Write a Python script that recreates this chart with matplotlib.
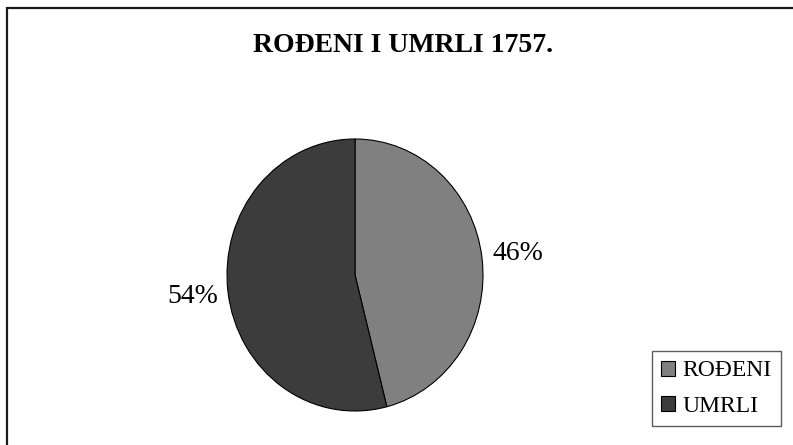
import matplotlib
matplotlib.use('Agg')
import matplotlib.pyplot as plt
from matplotlib.patches import Rectangle

labels = ['ROĐENI', 'UMRLI']
shares = [46, 54]
colors = ['#808080', '#3c3c3c']

plt.rcParams['font.family'] = ['Liberation Serif', 'DejaVu Serif']

W, H = 793, 445
fig = plt.figure(figsize=(W / 100, H / 100), dpi=100)

# outer frame (only top and left edge visible in the image)
fig.patches.append(Rectangle((7 / W, -0.1), 1.2, 1.1 - 8 / H,
                             transform=fig.transFigure, fill=False,
                             edgecolor='#1a1a1a', linewidth=1.6))

fig.text(403 / W, 1 - 46 / H, 'ROĐENI I UMRLI 1757.', ha='center',
         va='center', fontsize=20, fontweight='bold')

# pie is slightly taller than wide, so place axes in pixels
left, right, top, bottom = 227, 483, 139, 411
ax = fig.add_axes([left / W, 1 - bottom / H, (right - left) / W,
                   (bottom - top) / H])
wedges, texts, autotexts = ax.pie(
    shares, colors=colors, startangle=90, counterclock=False,
    autopct='%d%%', pctdistance=1.28, radius=1,
    wedgeprops=dict(edgecolor='black', linewidth=0.8),
    textprops=dict(fontsize=20))
ax.set_aspect('auto')
ax.set_xlim(-1, 1)
ax.set_ylim(-1, 1)
for t in autotexts:
    t.set_clip_on(False)

fig.legend(wedges, labels, loc='lower right',
           bbox_to_anchor=(781 / W, 19 / H), fontsize=17,
           frameon=True, fancybox=False, edgecolor='#333333',
           handlelength=0.6, handleheight=0.6, handletextpad=0.3,
           labelspacing=0.6, borderpad=0.4, borderaxespad=0)

fig.savefig('out.png', dpi=100)
